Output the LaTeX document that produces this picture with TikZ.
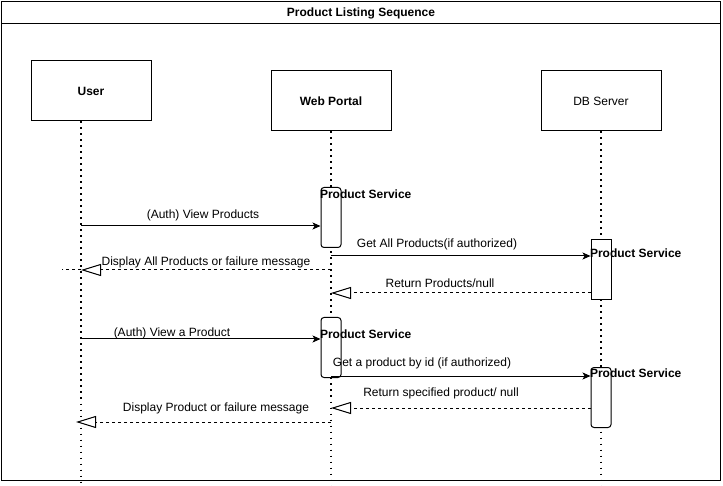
\documentclass[tikz,border=0pt]{standalone}
\usepackage{fontspec}
\setmainfont{Liberation Sans}
\usetikzlibrary{arrows.meta}
\begin{document}
\begin{tikzpicture}[x=1pt,y=-1pt,line width=1pt,
  font=\fontsize{12}{14}\selectfont,
  actor/.style={draw,fill=white,minimum width=120pt,minimum height=60pt,inner sep=0pt},
  lifeline/.style={line width=1.3pt,dash pattern=on 1.3pt off 4.7pt},
  activation/.style={draw,fill=white,minimum width=20pt,minimum height=60pt,inner sep=0pt,anchor=north},
  service/.style={font=\fontsize{12}{14}\selectfont\bfseries,inner sep=0pt,anchor=west},
  msg/.style={-{Stealth[length=8pt,width=7pt,inset=2pt]}},
  reply/.style={dash pattern=on 3pt off 3pt,-{Triangle[open,length=20pt,width=12pt,fill=white]}},
  lbl/.style={inner sep=0pt}]
\useasboundingbox (0,0) rectangle (723,486);
% frame and title
\draw (1,1.5) rectangle (720.5,480.5);
\draw (1,24) -- (720.5,24);
\node[lbl,font=\fontsize{12}{14}\selectfont\bfseries] (title) at (361,13) {Product Listing Sequence};
% actors
\node[actor,font=\fontsize{12}{14}\selectfont\bfseries] (user) at (91,91) {User};
\node[actor,font=\fontsize{12}{14}\selectfont\bfseries] (web) at (331,101) {Web Portal};
\node[actor] (db) at (601,101) {DB Server};
% lifelines
\coordinate (bottom) at (0,486);
\coordinate (ul) at ([xshift=-10pt]user.south);
\draw[lifeline] (ul) -- (ul |- bottom);
\draw[lifeline] (web.south) -- (web.south |- bottom);
\draw[lifeline] (db.south) -- (db.south |- bottom);
% activations
\node[activation,rounded corners=3pt] (web1) at (331,187) {};
\node[activation] (db1) at (601,239) {};
\node[activation,rounded corners=3pt] (web2) at (331,317) {};
\node[activation,rounded corners=3pt] (db2) at (601,367) {};
\node[service] (svc1) at (319.5,194) {Product Service};
\node[service] (svc2) at (589.5,253) {Product Service};
\node[service] (svc3) at (319.5,334) {Product Service};
\node[service] (svc4) at (589.5,373) {Product Service};
% message rows
\coordinate (r1) at (0,226);
\coordinate (r2) at (0,256);
\coordinate (r3) at (0,270);
\coordinate (r4) at (0,293);
\coordinate (r5) at (0,339);
\coordinate (r6) at (0,376);
\coordinate (r7) at (0,408);
\coordinate (r8) at (0,422);
\coordinate (stub) at (62,270);
% messages
\draw[msg] (ul |- r1) -- (web1.west |- r1);
\node[lbl] (m1) at (203,215) {(Auth) View Products};
\draw[msg] (web.south |- r2) -- (db1.west |- r2);
\node[lbl] (m2) at (437,244) {Get All Products(if authorized)};
\draw[reply] (web.south |- r3) -- (ul |- r3);
\draw[dash pattern=on 3pt off 3pt] (ul |- r3) -- (stub);
\node[lbl] (m3) at (206,262) {Display All Products or failure message};
\draw[reply] (db1.west |- r4) -- (web.south |- r4);
\node[lbl] (m4) at (440,283) {Return Products/null};
\draw[msg] (ul |- r5) -- (web2.west |- r5);
\node[lbl] (m5) at (172,333) {(Auth) View a Product};
\draw[msg] (web.south |- r6) -- (db2.west |- r6);
\node[lbl] (m6) at (422,363) {Get a product by id (if authorized)};
\draw[reply] (db2.west |- r7) -- (web.south |- r7);
\node[lbl] (m7) at (441,393) {Return specified product/ null};
\draw[reply] (web.south |- r8) -- ([xshift=-5pt]ul |- r8);
\node[lbl] (m8) at (216,408) {Display Product or failure message};
\end{tikzpicture}
\end{document}
